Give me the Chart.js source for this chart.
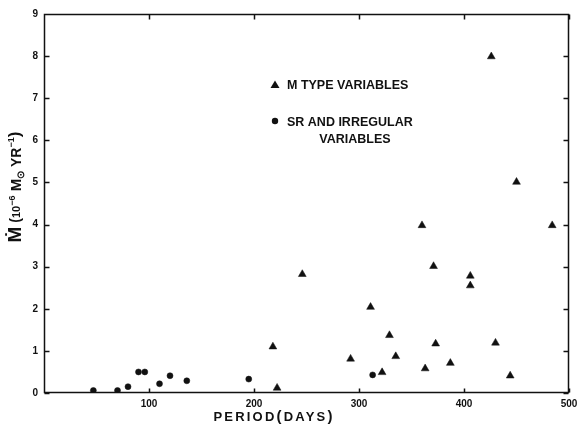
<!DOCTYPE html>
<html>
<head>
<meta charset="utf-8">
<script src="https://cdn.jsdelivr.net/npm/chart.js@4.4.1/dist/chart.umd.min.js"></script>
<style>
  html, body { margin: 0; padding: 0; background: #fff; }
  #wrap { width: 579px; height: 424px; }
</style>
</head>
<body>
<div id="wrap"><canvas id="c" width="579" height="424"></canvas></div>
<script>
// M type variables (period in days, mass loss in 1e-6 Msun/yr)
const M_PERIOD = [218, 222, 246, 292, 311, 322, 329, 335, 360, 363, 371, 373, 387, 406, 406, 426, 430, 444, 450, 484];
const M_RATE   = [1.10, 0.12, 2.82, 0.81, 2.04, 0.49, 1.37, 0.87, 3.98, 0.58, 3.01, 1.17, 0.71, 2.78, 2.55, 7.99, 1.19, 0.41, 5.01, 3.98];

// SR and irregular variables
const SR_PERIOD = [47, 70, 80, 90, 96, 110, 120, 136, 195, 313];
const SR_RATE   = [0.06, 0.06, 0.15, 0.50, 0.50, 0.22, 0.41, 0.29, 0.33, 0.43];

const X_TICKS = [100, 200, 300, 400, 500];
const Y_TICKS = [0, 1, 2, 3, 4, 5, 6, 7, 8, 9];

const INK = '#111';
const SANS = "'Liberation Sans', Arial, sans-serif";

const toPts = (xs, ys) => xs.map((x, i) => ({ x, y: ys[i] }));

// frame, inward ticks, legend and axis titles
const decor = {
    id: 'decor',
    afterDraw(chart) {
        const { ctx, chartArea: a, scales: { x, y } } = chart;
        const L = Math.round(a.left) + 0.5, R = Math.round(a.right) - 0.5;
        const T = Math.round(a.top) + 0.5, B = Math.round(a.bottom) - 0.5;
        ctx.save();
        ctx.strokeStyle = INK;
        ctx.lineWidth = 1.5;
        ctx.beginPath();
        ctx.moveTo(L, T); ctx.lineTo(R, T); ctx.lineTo(R, B); ctx.lineTo(L, B); ctx.closePath();
        X_TICKS.forEach(v => {
            const px = Math.round(x.getPixelForValue(v)) + 0.5;
            ctx.moveTo(px, T); ctx.lineTo(px, T + 5);
            ctx.moveTo(px, B); ctx.lineTo(px, B - 4);
        });
        Y_TICKS.forEach(v => {
            const py = Math.round(y.getPixelForValue(v)) + 0.5;
            ctx.moveTo(L, py); ctx.lineTo(L + 5, py);
            ctx.moveTo(R, py); ctx.lineTo(R - 5, py);
        });
        ctx.stroke();

        // legend
        ctx.fillStyle = INK;
        ctx.font = `bold 12.5px ${SANS}`;
        ctx.textBaseline = 'alphabetic';
        ctx.textAlign = 'left';
        ctx.beginPath();
        ctx.moveTo(275, 80.5); ctx.lineTo(279.5, 88); ctx.lineTo(270.5, 88); ctx.closePath();
        ctx.fill();
        ctx.fillText('M TYPE VARIABLES', 287, 89);
        ctx.beginPath();
        ctx.arc(275, 121, 3.2, 0, Math.PI * 2);
        ctx.fill();
        ctx.fillText('SR AND IRREGULAR', 287, 126);
        ctx.textAlign = 'center';
        ctx.fillText('VARIABLES', 355, 143);

        // x title
        ctx.textAlign = 'left';
        ctx.letterSpacing = '2.2px';
        const parts = [['PERIOD', 13], ['(', 15], ['DAYS', 13], [')', 15]];
        let tot = 0;
        parts.forEach(([t, s]) => { ctx.font = `bold ${s}px ${SANS}`; tot += ctx.measureText(t).width; });
        let cx = 274 - tot / 2;
        parts.forEach(([t, s]) => {
            ctx.font = `bold ${s}px ${SANS}`;
            ctx.fillText(t, cx, 421);
            cx += ctx.measureText(t).width;
        });
        ctx.letterSpacing = '0px';

        // y title, rotated, drawn in pieces for super/subscripts
        ctx.translate(21, 0);
        ctx.rotate(-Math.PI / 2);
        const yp = [
            ['Ṁ', 19, 0], [' (', 14, -1], ['10', 11, -1], ['−6', 9, -6], [' M', 15, 0],
            ['⊙', 10, 3], [' YR', 14, 0], ['−1', 9, -7], [')', 17, -1]
        ];
        tot = 0;
        yp.forEach(([t, s]) => { ctx.font = `bold ${s}px ${SANS}`; tot += ctx.measureText(t).width; });
        let rx = -187 - tot / 2;
        yp.forEach(([t, s, dy]) => {
            ctx.font = `bold ${s}px ${SANS}`;
            ctx.fillText(t, rx, dy);
            rx += ctx.measureText(t).width;
        });
        ctx.restore();
    }
};

new Chart(document.getElementById('c'), {
    type: 'scatter',
    data: {
        datasets: [
            { label: 'M TYPE VARIABLES', data: toPts(M_PERIOD, M_RATE), pointStyle: 'triangle', pointRadius: 4.5, backgroundColor: INK, borderColor: INK, borderWidth: 0.5 },
            { label: 'SR AND IRREGULAR VARIABLES', data: toPts(SR_PERIOD, SR_RATE), pointStyle: 'circle', pointRadius: 3, backgroundColor: INK, borderColor: INK, borderWidth: 0.5 }
        ]
    },
    plugins: [decor],
    options: {
        responsive: false,
        animation: false,
        layout: { padding: { left: 0, right: 10, top: 14, bottom: 0 } },
        plugins: { legend: { display: false }, tooltip: { enabled: false } },
        scales: {
            x: {
                type: 'linear', min: 0, max: 500,
                afterFit: s => { s.height = 31; s.paddingRight = 0; s.paddingLeft = 0; },
                afterBuildTicks: s => { s.ticks = X_TICKS.map(v => ({ value: v })); },
                grid: { display: false, drawTicks: false, tickLength: 0 },
                border: { display: false },
                ticks: { color: INK, padding: 5, maxRotation: 0, font: { family: SANS, size: 10, weight: 'bold' } }
            },
            y: {
                type: 'linear', min: 0, max: 9,
                afterFit: s => { s.width = 44; s.paddingTop = 0; s.paddingBottom = 0; },
                afterBuildTicks: s => { s.ticks = Y_TICKS.map(v => ({ value: v })); },
                grid: { display: false, drawTicks: false, tickLength: 0 },
                border: { display: false },
                ticks: { color: INK, padding: 6, font: { family: SANS, size: 10, weight: 'bold' } }
            }
        }
    }
});
</script>
</body>
</html>
